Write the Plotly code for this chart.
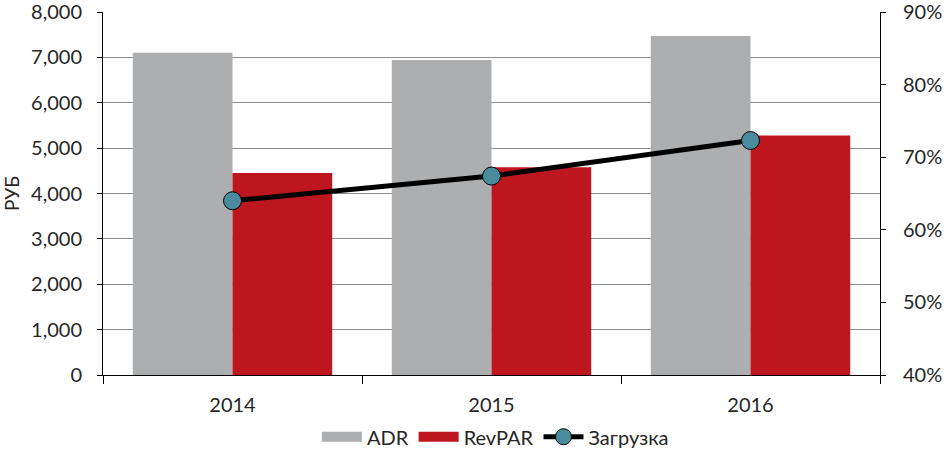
import plotly.graph_objects as go

years = ["2014", "2015", "2016"]
adr = [7100, 6940, 7470]
revpar = [4450, 4580, 5280]
occupancy = [0.64, 0.674, 0.723]

GRAY = "#ADAEB0"
RED = "#BE161E"
TEAL = "#4A8C9E"
FONT = "Lato"

fig = go.Figure()
fig.add_trace(go.Bar(x=years, y=adr, name="ADR", marker=dict(color=GRAY, line=dict(width=0)),
                     showlegend=False, yaxis="y"))
fig.add_trace(go.Bar(x=years, y=revpar, name="RevPAR", marker=dict(color=RED, line=dict(width=0)),
                     showlegend=False, yaxis="y"))
# legend swatches
fig.add_trace(go.Scatter(x=[None], y=[None], mode="lines", name="ADR",
                         line=dict(color=GRAY, width=10), yaxis="y"))
fig.add_trace(go.Scatter(x=[None], y=[None], mode="lines", name="RevPAR",
                         line=dict(color=RED, width=10), yaxis="y"))
fig.add_trace(go.Scatter(x=years, y=occupancy, name="Загрузка", mode="lines+markers",
                         line=dict(color="black", width=5),
                         marker=dict(color=TEAL, size=18, line=dict(color="black", width=1)),
                         yaxis="y2"))

fig.update_layout(
    width=949, height=450,
    margin=dict(l=103, r=69, t=12, b=75, autoexpand=False),
    paper_bgcolor="white", plot_bgcolor="white",
    font=dict(family=FONT, size=19, color="#262626"),
    barmode="group", bargap=0.23, bargroupgap=0,
    xaxis=dict(type="category", showline=True, linecolor="black", linewidth=1,
               ticks="outside", tickson="boundaries", ticklen=8, tickcolor="black",
               tickfont=dict(size=20), showgrid=False, zeroline=False, automargin=False,
               ticklabelstandoff=12),
    yaxis=dict(range=[0, 8000], dtick=1000, tickformat=",d", showline=True, linecolor="black",
               linewidth=1, ticks="outside", ticklen=5, tickcolor="black",
               showgrid=True, gridcolor="#8C8C8C", gridwidth=1, zeroline=False,
               tickfont=dict(size=20), ticklabeloverflow="allow", automargin=False,
               ticklabelstandoff=11,
               title=dict(text="РУБ", font=dict(size=19), standoff=8)),
    yaxis2=dict(range=[0.4, 0.9], dtick=0.1, tickformat=".0%", overlaying="y", side="right",
                showline=True, linecolor="black", linewidth=1, ticks="outside", ticklen=5,
                tickcolor="black", showgrid=False, zeroline=False, tickfont=dict(size=20),
                ticklabeloverflow="allow", automargin=False, ticklabelstandoff=13),
    legend=dict(orientation="h", x=0.505, xanchor="center", y=-0.17, yanchor="middle",
                font=dict(size=20), itemwidth=40, traceorder="normal"),
)

fig.write_html("out.html")
